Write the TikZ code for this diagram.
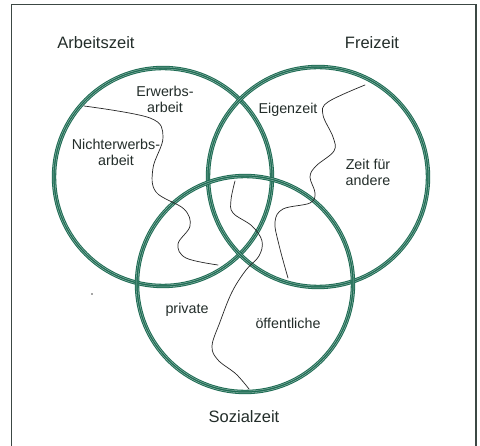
\documentclass[tikz,border=0pt]{standalone}
\usepackage{fontspec}
\setmainfont{Liberation Sans}
\begin{document}
\begin{tikzpicture}[x=1pt,y=-1pt,
  ring/.style={draw=ringgreen,line width=4.4pt},
  ringstripe/.style={draw=ringgreen!45,line width=0.4pt},
  wave/.style={draw=black!85,line width=0.7pt,line cap=round},
  outer/.style={text=txtcol,font=\fontsize{16.5}{18}\selectfont,inner sep=0pt},
  inner/.style={text=txtcol,font=\fontsize{14.3}{16}\selectfont,inner sep=0pt,align=center}]
\definecolor{ringgreen}{RGB}{30,108,84}
\definecolor{txtcol}{RGB}{35,45,42}
\definecolor{framecol}{RGB}{60,72,68}
\useasboundingbox (0,0) rectangle (480,446);
\fill[white] (0,0) rectangle (480,446);
% frame (bottom edge lies outside the picture)
\draw[framecol,line width=1.2pt] (11.5,460) -- (11.5,4.5) -- (476,4.5) -- (476,460);
% circle centres
\coordinate (ca) at (163,177);
\coordinate (cf) at (318,177);
\coordinate (cs) at (245,284);
% rings
\foreach \c/\r in {ca/109,cf/110,cs/108}{
  \draw[ring] (\c) circle[radius=\r];
  \draw[ringstripe] (\c) circle[radius=\r-0.95];
  \draw[ringstripe] (\c) circle[radius=\r+0.95];
}
% dividing lines
\draw[wave] plot[smooth,tension=0.6] coordinates {(84,106) (150,118) (163,137) (153,168) (156,192) (184,209) (190,226) (178,244) (186,258) (218,265)};
\draw[wave] plot[smooth,tension=0.6] coordinates {(365,85) (328,102) (323,115) (333,137) (334,151) (316,166) (310,177) (315,193) (310,203) (283,209) (275,222) (279,245) (288,278)};
\draw[wave] plot[smooth,tension=0.6] coordinates {(235,181) (231,200) (233,213) (252,226) (262,241) (259,256) (246,270) (232,292) (220,322) (212,346) (218,360) (236,374) (249,389)};
% speck
\fill[black!70] (92,294) circle[radius=0.9];
% labels
\node[outer] (arb) at (96,43) {Arbeitszeit};
\node[outer] (frei) at (372,43) {Freizeit};
\node[outer] (soz) at (244,417) {Sozialzeit};
\node[inner] (erw) at (165,99) {Erwerbs-\\arbeit};
\node[inner] (nerw) at (116,152.5) {Nichterwerbs-\\arbeit};
\node[inner] (eig) at (288,110) {Eigenzeit};
\node[inner] (zfa) at (368,172) {Zeit für\\andere};
\node[inner] (priv) at (187,310) {private};
\node[inner] (oeff) at (288,323) {öffentliche};
\end{tikzpicture}
\end{document}
